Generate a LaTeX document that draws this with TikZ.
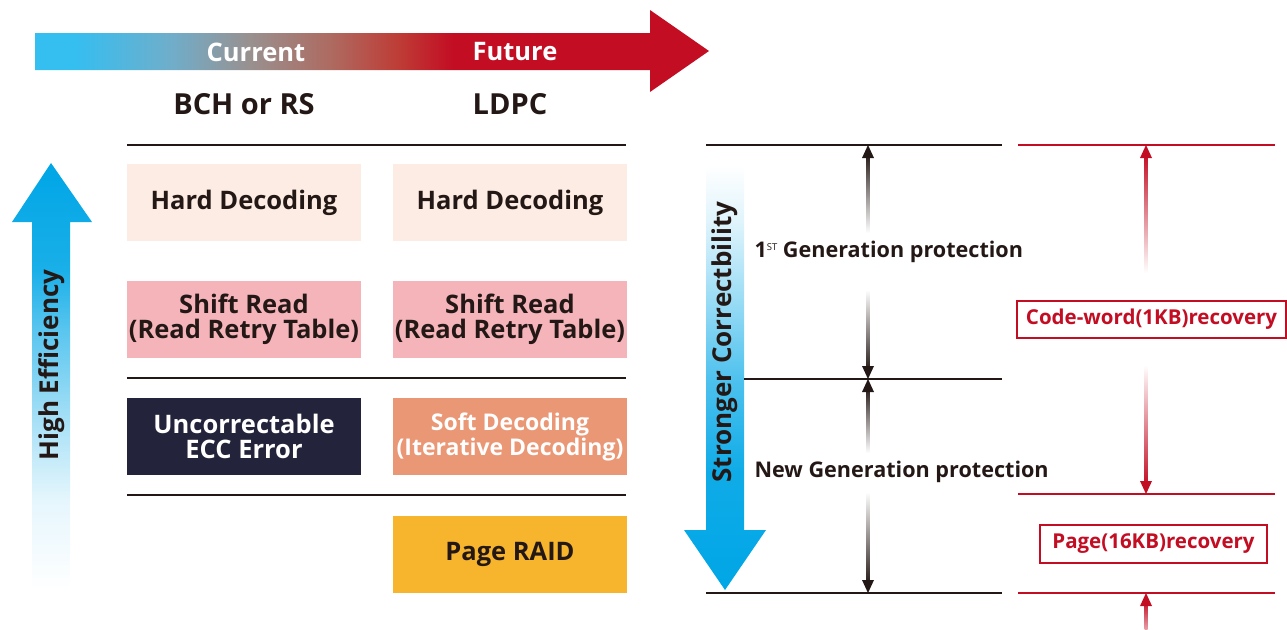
\documentclass[tikz,border=0pt]{standalone}
\usepackage{fontspec}
\setmainfont{Open Sans}
\usepackage{xcolor}
\usetikzlibrary{calc}

\definecolor{ecccyan}{HTML}{35BEF0}
\definecolor{eccred}{HTML}{C30D23}
\definecolor{eccblue}{HTML}{00A6E6}
\definecolor{inkcol}{HTML}{231815}
\definecolor{hardfill}{HTML}{FDECE3}
\definecolor{shiftfill}{HTML}{F4B4BA}
\definecolor{uncfill}{HTML}{23233B}
\definecolor{softfill}{HTML}{EA9775}
\definecolor{raidfill}{HTML}{F6B52C}
\definecolor{tlblue}{HTML}{6FAECB}
\definecolor{tlgray}{HTML}{99908F}
\definecolor{tlmauve}{HTML}{AE6A60}
\definecolor{tlbrick}{HTML}{BE3C36}

\pgfdeclarehorizontalshading{timeline}{100bp}{color(0bp)=(ecccyan); color(28bp)=(ecccyan);
  color(35bp)=(tlblue); color(41bp)=(tlgray); color(47bp)=(tlmauve); color(52bp)=(tlbrick);
  color(56bp)=(eccred); color(100bp)=(eccred)}
\pgfdeclareverticalshading{effgrad}{100bp}{color(0bp)=(white); color(25bp)=(white);
  color(35.5bp)=(eccblue!10!white); color(45bp)=(eccblue!35!white); color(55.5bp)=(eccblue!65!white);
  color(62.5bp)=(eccblue!90!white); color(75bp)=(eccblue); color(100bp)=(eccblue)}
\pgfdeclareverticalshading{corrgrad}{100bp}{color(0bp)=(eccblue); color(25bp)=(eccblue);
  color(39bp)=(eccblue!94!white); color(49.5bp)=(eccblue!70!white); color(59bp)=(eccblue!40!white);
  color(68.5bp)=(eccblue!12!white); color(75bp)=(white); color(100bp)=(white)}

\begin{document}
\begin{tikzpicture}[x=1pt,y=-1pt,
    box/.style={minimum width=234pt,minimum height=77pt,inner sep=0pt,align=center,
      font=\fontsize{25.5}{25}\selectfont\bfseries,text=inkcol},
    head/.style={font=\fontsize{29}{32}\selectfont\bfseries,text=inkcol},
    side/.style={font=\fontsize{26}{28}\selectfont\bfseries,text=inkcol,rotate=90},
    gen/.style={font=\fontsize{21.6}{24}\selectfont\bfseries,text=inkcol,anchor=west},
    recbox/.style={draw=eccred,line width=1.5pt,fill=white,text=eccred,inner sep=0pt,
      font=\fontsize{20.5}{24}\selectfont\bfseries},
    rule/.style={draw=inkcol,line width=1.5pt},
    redrule/.style={draw=eccred,line width=1.5pt}]
    \useasboundingbox (0,0) rectangle (1287,629);

    % timeline arrow
    \shade[shading=timeline] (35,33) -- (650,33) -- (650,10) -- (709,51) -- (650,92)
        -- (650,70) -- (35,70) -- cycle;
    \node[head,text=white,font=\fontsize{25.5}{28}\selectfont\bfseries] (cur) at (256,52) {Current};
    \node[head,text=white,font=\fontsize{25.5}{28}\selectfont\bfseries] (fut) at (515,52) {Future};
    \node[head] (bch) at (244,104) {BCH or RS};
    \node[head] (ldpc) at (510,104) {LDPC};

    % decoding table
    \draw[rule] (127,145) -- (626,145);
    \draw[rule] (127,378) -- (626,378);
    \draw[rule] (127,495) -- (626,495);
    \node[box,fill=hardfill] (hard1) at (244,202.5) {Hard Decoding};
    \node[box,fill=hardfill] (hard2) at (510,202.5) {Hard Decoding};
    \node[box,fill=shiftfill] (shift1) at (244,319.5) {Shift Read\\(Read Retry Table)};
    \node[box,fill=shiftfill] (shift2) at (510,319.5) {Shift Read\\(Read Retry Table)};
    \node[box,fill=uncfill,text=white] (unc) at (244,436.5) {Uncorrectable\\ECC Error};
    \node[box,fill=softfill,text=white,font=\fontsize{23}{25}\selectfont\bfseries] (soft) at (510,436.5)
        {Soft Decoding\\(Iterative Decoding)};
    \node[box,fill=raidfill] (raid) at (510,554.5) {Page RAID};

    % high efficiency arrow
    \shade[shading=effgrad] (32,590) -- (32,222) -- (12,222) -- (51,163) -- (92,222)
        -- (70,222) -- (70,590) -- cycle;
    \node[side] (effic) at (52,365) {High Efficiency};

    % stronger correctbility arrow
    \shade[shading=corrgrad] (706,165) -- (744,165) -- (744,530) -- (766,530) -- (725,590)
        -- (684,530) -- (706,530) -- cycle;
    \node[side] (corr) at (725,342) {Stronger Correctbility};

    % generation levels
    \draw[rule] (706,145) -- (1002,145);
    \draw[rule] (744,379) -- (1002,379);
    \draw[rule] (706,593) -- (1002,593);
    \coordinate (g1top) at (868,145);
    \coordinate (g1mid) at (868,379);
    \coordinate (g2bot) at (868,593);
    \shade[top color=inkcol,bottom color=white] ($(g1top)+(-1.5,8)$) rectangle (869.5,233);
    \shade[top color=white,bottom color=inkcol] (866.5,290) rectangle ($(g1mid)+(1.5,-8)$);
    \shade[top color=inkcol,bottom color=white] ($(g1mid)+(-1.5,8)$) rectangle (869.5,453);
    \shade[top color=white,bottom color=inkcol] (866.5,492) rectangle ($(g2bot)+(1.5,-8)$);
    \fill[inkcol] (g1top) -- ++(-6,13) -- ++(12,0) -- cycle;
    \fill[inkcol] (g1mid) -- ++(-6,-13) -- ++(12,0) -- cycle;
    \fill[inkcol] (g1mid) -- ++(-6,13) -- ++(12,0) -- cycle;
    \fill[inkcol] (g2bot) -- ++(-6,-13) -- ++(12,0) -- cycle;
    \node[gen] (gen1) at (751,252) {1\raisebox{0.6ex}{\fontsize{9.5}{10}\selectfont\mdseries ST} Generation protection};
    \node[gen] (gennew) at (751,472) {New Generation protection};

    % recovery levels
    \draw[redrule] (1018,145) -- (1275,145);
    \draw[redrule] (1018,494) -- (1275,494);
    \draw[redrule] (1018,593) -- (1275,593);
    \coordinate (r1top) at (1146,145);
    \coordinate (r1bot) at (1146,494);
    \coordinate (r2top) at (1146,593);
    \shade[top color=eccred,bottom color=white] ($(r1top)+(-1.5,8)$) rectangle (1147.5,273);
    \shade[top color=white,bottom color=eccred] (1144.5,365) rectangle ($(r1bot)+(1.5,-8)$);
    \shade[top color=eccred,bottom color=eccred!40!white] ($(r2top)+(-1.5,8)$) rectangle (1147.5,629);
    \fill[eccred] (r1top) -- ++(-6,13) -- ++(12,0) -- cycle;
    \fill[eccred] (r1bot) -- ++(-6,-13) -- ++(12,0) -- cycle;
    \fill[eccred] (r2top) -- ++(-6,13) -- ++(12,0) -- cycle;
    \node[recbox,minimum width=269pt,minimum height=37pt] (cwrec) at (1151.5,319.5) {Code-word(1KB)recovery};
    \node[recbox,minimum width=227pt,minimum height=38pt] (pagerec) at (1153.5,544) {Page(16KB)recovery};
\end{tikzpicture}
\end{document}
